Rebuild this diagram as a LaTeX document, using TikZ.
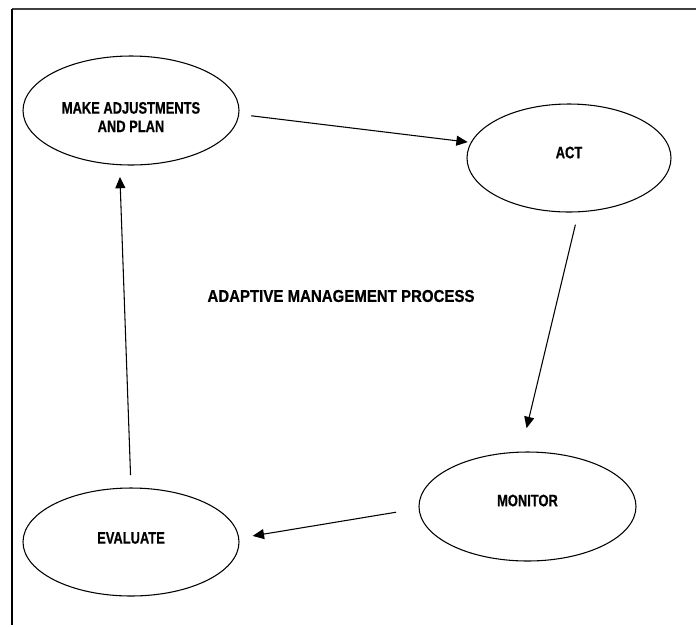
\documentclass[tikz,border=0pt]{standalone}
\usepackage{fontspec}
\setmainfont{Liberation Sans}
\newfontfamily\narrowfont[FakeStretch=0.78,FakeBold=0.6]{Liberation Sans}
\newfontfamily\titlefont[FakeStretch=0.88,FakeBold=0.6]{Liberation Sans}
\usetikzlibrary{arrows.meta,shapes.geometric}

\begin{document}
\begin{tikzpicture}[x=0.75pt,y=-0.75pt,
  stage/.style={ellipse, draw, line width=0.8pt, inner sep=0pt, outer sep=0pt,
    minimum width=162pt, minimum height=81pt},
  stagetext/.style={font=\narrowfont\bfseries\fontsize{12.4}{13.8}\selectfont, align=center},
  flow/.style={-{Triangle[length=8.5pt,width=7.5pt]}, line width=0.8pt}]
\useasboundingbox (0,0) rectangle (696,626);
% --- Frame ---
\draw[line width=1.5pt, black!75] (12,9) -- (696,9);
\draw[line width=0.8pt] (12,9) -- (12,625);
% --- Stages of the cycle ---
\node[stage, minimum height=81.75pt,
  label={[stagetext, yshift=-4.9pt]center:MAKE ADJUSTMENTS\\AND PLAN}] (plan) at (131,110.5) {};
\node[stage, minimum width=153pt,
  label={[stagetext, yshift=4.1pt]center:ACT}] (act) at (569,158) {};
\node[stage, minimum width=162.75pt, minimum height=81.75pt,
  label={[stagetext, yshift=4.5pt]center:MONITOR}] (monitor) at (527.5,506.5) {};
\node[stage,
  label={[stagetext, yshift=3pt]center:EVALUATE}] (evaluate) at (131,542) {};
% --- Title ---
\node[font=\titlefont\bfseries\fontsize{12.8}{14}\selectfont] (title) at (341,296)
  {ADAPTIVE MANAGEMENT PROCESS};
% --- Arrows round the cycle ---
\draw[flow, shorten <=9.4pt, shorten >=2.7pt] (plan.358) -- (act.171);
\draw[flow, shorten <=9.9pt, shorten >=18.5pt] (act.280) -- (monitor.97);
\draw[flow, shorten <=17.5pt, shorten >=10.6pt] (monitor.181) -- (evaluate.2);
\draw[flow, shorten <=9.75pt, shorten >=9.2pt] (evaluate.north) -- (plan.258);
\end{tikzpicture}
\end{document}
